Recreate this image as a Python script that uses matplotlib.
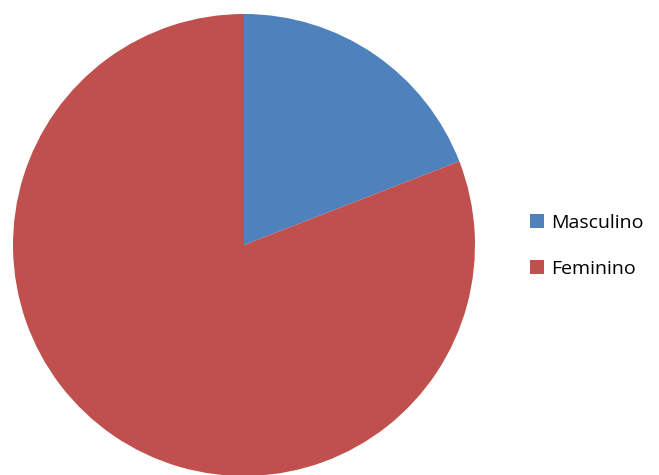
import matplotlib.pyplot as plt

labels = ["Masculino", "Feminino"]
values = [19.1, 80.9]
colors = ["#4F81BD", "#C0504D"]

W, H = 659, 475
fig = plt.figure(figsize=(W / 100, H / 100), dpi=100)
cx, cy, r = 244, 245, 231
ax = fig.add_axes([(cx - r) / W, (H - cy - r) / H, 2 * r / W, 2 * r / H])
wedges, _ = ax.pie(values, colors=colors, startangle=90, counterclock=False,
                   radius=1.0)
ax.set_xlim(-1, 1)
ax.set_ylim(-1, 1)
ax.set_aspect("equal")

fig.legend(wedges, labels, loc="center left", bbox_to_anchor=(512 / W, 1 - 246 / H),
           frameon=False, handlelength=0.75, handleheight=0.75,
           handletextpad=0.35, labelspacing=1.45,
           prop={"family": "Open Sans", "size": 14})

fig.savefig("out.png", dpi=100)
